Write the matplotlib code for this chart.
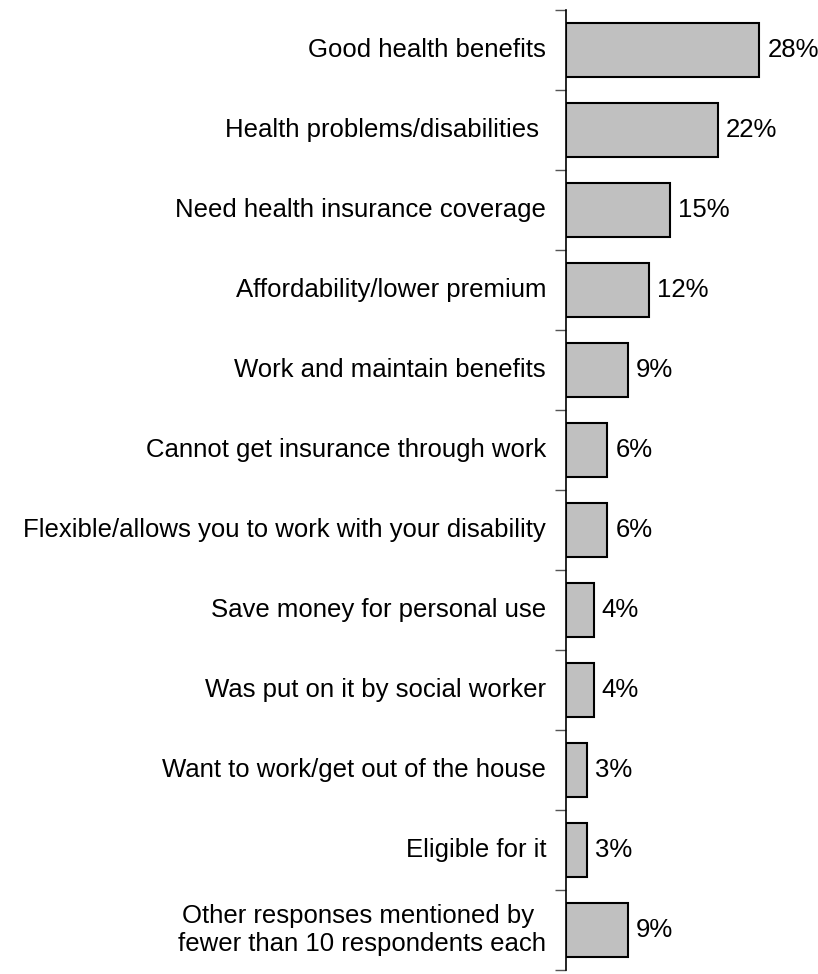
import matplotlib.pyplot as plt
from matplotlib import rcParams
import numpy as np

rcParams['font.family'] = ['Liberation Sans', 'DejaVu Sans']
rcParams['font.size'] = 18.5

reasons = ['Good health benefits',
           'Health problems/disabilities ',
           'Need health insurance coverage',
           'Affordability/lower premium',
           'Work and maintain benefits',
           'Cannot get insurance through work',
           'Flexible/allows you to work with your disability',
           'Save money for personal use',
           'Was put on it by social worker',
           'Want to work/get out of the house',
           'Eligible for it',
           'Other responses mentioned by \nfewer than 10 respondents each']
pct = [28, 22, 15, 12, 9, 6, 6, 4, 4, 3, 3, 9]

fig = plt.figure(figsize=(8.18, 9.74), dpi=100)
ax = fig.add_axes([566/818, 4/974, 252/818, 960/974])

y = np.arange(len(reasons))
ax.barh(y, pct, height=0.68, color='#C0C0C0', edgecolor='black', linewidth=1.5)
for yi, v in zip(y, pct):
    ax.annotate('%d%%' % v, xy=(v, yi), xytext=(8, 0), textcoords='offset pixels',
                va='center', ha='left')

ax.set_xlim(0, 36.5)
ax.set_ylim(len(reasons) - 0.5, -0.5)
ax.set_xticks([])
ax.set_yticks(np.arange(len(reasons) + 1) - 0.5)
ax.set_yticklabels([])
ax.tick_params(axis='y', length=8, width=1, color='#555555')
for sp in ['top', 'right', 'bottom']:
    ax.spines[sp].set_visible(False)
ax.spines['left'].set_linewidth(1.2)

# category labels sit right-aligned against the axis
for yi, lab in zip(y, reasons):
    ax.annotate(lab, xy=(0, yi), xytext=(-20, 0), textcoords='offset pixels',
                ha='right', va='center', multialignment='center', linespacing=1.25)

fig.savefig('out.png', dpi=100)
